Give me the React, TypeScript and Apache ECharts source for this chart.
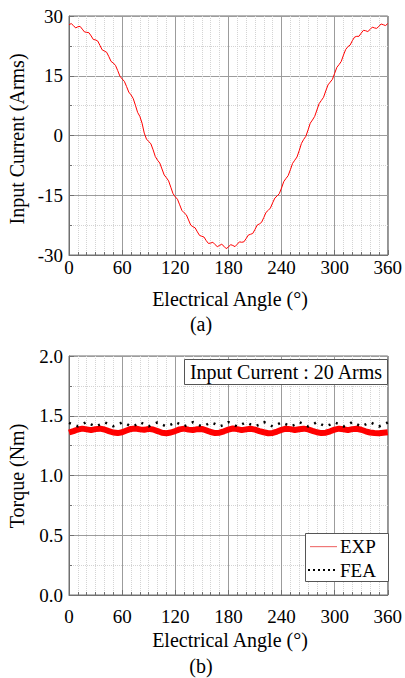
import React, { useEffect, useRef } from "react";
import * as echarts from "echarts";

// Input current (Arms), sampled every 2.5° from 0° to 360°
const currentStep = 2.5;
const currentValues = [
  27.8, 28.1, 27.6, 27.0, 27.3, 27.4, 26.7, 26.0, 25.9, 25.8,
  25.0, 24.1, 24.0, 23.7, 22.6, 21.5, 21.2, 20.9, 19.8, 18.6,
  18.2, 17.6, 16.3, 14.9, 14.2, 13.6, 12.3, 10.9, 10.2, 9.3,
  7.6, 5.8, 4.8, 3.1, 0.6, -0.9, -1.5, -2.1, -3.6, -5.3,
  -6.2, -6.9, -8.4, -9.9, -10.6, -11.4, -13.0, -14.6, -15.4, -16.0,
  -17.4, -18.8, -19.4, -19.9, -21.2, -22.5, -22.9, -23.2, -24.2, -25.1,
  -25.3, -25.5, -26.4, -27.1, -27.0, -26.8, -27.4, -27.9, -27.6, -27.3,
  -27.8, -28.4, -28.0, -27.4, -27.6, -27.9, -27.3, -26.7, -26.8, -26.7,
  -25.9, -25.0, -24.8, -24.6, -23.6, -22.5, -22.2, -21.8, -20.6, -19.3,
  -18.8, -18.2, -16.9, -15.7, -15.2, -14.6, -13.2, -11.6, -10.8, -10.1,
  -8.6, -7.0, -6.2, -5.4, -3.8, -2.0, -1.0, -0.2, 1.4, 3.1,
  3.9, 4.8, 6.4, 8.0, 8.8, 9.6, 11.2, 12.7, 13.4, 14.1,
  15.6, 17.1, 17.8, 18.6, 20.2, 21.6, 22.3, 22.7, 23.8, 24.7,
  24.9, 24.9, 25.7, 26.4, 26.3, 26.1, 26.6, 27.2, 27.0, 26.9,
  27.4, 28.0, 27.8, 27.6, 28.1,
];

// Torque (Nm), sampled every 5° from 0° to 360°
const torqueStep = 5;
const expTorque = [
  1.36, 1.372, 1.385, 1.392, 1.386, 1.38, 1.388, 1.392, 1.385, 1.372,
  1.36, 1.355, 1.362, 1.376, 1.39, 1.393, 1.386, 1.382, 1.39, 1.385,
  1.372, 1.358, 1.354, 1.36, 1.372, 1.386, 1.392, 1.384, 1.38, 1.388,
  1.39, 1.378, 1.364, 1.355, 1.358, 1.37, 1.384, 1.393, 1.388, 1.38,
  1.386, 1.391, 1.384, 1.372, 1.362, 1.354, 1.356, 1.368, 1.382, 1.392,
  1.388, 1.381, 1.387, 1.392, 1.386, 1.374, 1.362, 1.355, 1.358, 1.37,
  1.384, 1.392, 1.387, 1.38, 1.388, 1.391, 1.383, 1.37, 1.36, 1.356,
  1.354, 1.358, 1.362,
];
const feaTorque = [
  1.44, 1.425, 1.412, 1.43, 1.448, 1.428, 1.41, 1.426, 1.446, 1.43,
  1.412, 1.424, 1.444, 1.432, 1.41, 1.422, 1.447, 1.43, 1.411, 1.428,
  1.445, 1.427, 1.41, 1.425, 1.448, 1.43, 1.412, 1.426, 1.446, 1.428,
  1.41, 1.424, 1.445, 1.431, 1.411, 1.423, 1.447, 1.429, 1.41, 1.427,
  1.446, 1.428, 1.412, 1.425, 1.448, 1.43, 1.41, 1.426, 1.445, 1.429,
  1.411, 1.424, 1.446, 1.431, 1.41, 1.425, 1.447, 1.428, 1.412, 1.426,
  1.445, 1.43, 1.41, 1.424, 1.448, 1.429, 1.411, 1.427, 1.446, 1.428,
  1.41, 1.425, 1.444,
];

const FONT = "Liberation Serif";
const FRAME = "#707070";
const TICK_FONT = 19;
const TITLE_FONT = 20;

function xAxisFor(gridIndex: number, margin: number) {
  return {
    gridIndex,
    type: "value",
    min: 0,
    max: 360,
    interval: 60,
    axisLine: { show: true, onZero: false, lineStyle: { color: FRAME, width: 1 } },
    axisTick: { show: true, inside: true, length: 5, lineStyle: { color: FRAME } },
    minorTick: { show: true, splitNumber: 6, length: 3, lineStyle: { color: FRAME } },
    splitLine: { show: true, lineStyle: { color: "#9c9c9c", width: 1 } },
    minorSplitLine: { show: true, lineStyle: { color: "#d4d4d4", width: 1, type: "dotted" } },
    axisLabel: { color: "#000", fontFamily: FONT, fontSize: TICK_FONT, margin },
  };
}

function yAxisFor(gridIndex: number, min: number, max: number, interval: number, fmt?: (v: number) => string) {
  return {
    gridIndex,
    type: "value",
    min,
    max,
    interval,
    axisLine: { show: true, onZero: false, lineStyle: { color: FRAME, width: 1 } },
    axisTick: { show: true, inside: true, length: 5, lineStyle: { color: FRAME } },
    minorTick: { show: true, splitNumber: 2, length: 3, lineStyle: { color: FRAME } },
    splitLine: { show: true, lineStyle: { color: "#9c9c9c", width: 1 } },
    minorSplitLine: { show: true, lineStyle: { color: "#d4d4d4", width: 1, type: "dotted" } },
    axisLabel: { color: "#000", fontFamily: FONT, fontSize: TICK_FONT, margin: 6, formatter: fmt },
  };
}

export default function App() {
  const ref = useRef<HTMLDivElement>(null);
  useEffect(() => {
    document.body.style.margin = "0";
    if (!ref.current) return;
    const chart = echarts.init(ref.current, null, { renderer: "svg" });
    const currentData = currentValues.map((v, i) => [i * currentStep, v]);
    const expData = expTorque.map((v, i) => [i * torqueStep, v]);
    const feaData = feaTorque.map((v, i) => [i * torqueStep, v]);
    const textStyle = (t: string, size: number, extra: any = {}) => ({
      text: t,
      fontFamily: FONT,
      fontSize: size,
      fill: "#000",
      align: "center",
      verticalAlign: "middle",
      ...extra,
    });
    chart.setOption({
      animation: false,
      textStyle: { fontFamily: FONT },
      grid: [
        { left: 69, top: 16, width: 320, height: 239, show: true, borderColor: FRAME, borderWidth: 1, backgroundColor: "#fff" },
        { left: 69, top: 356, width: 320, height: 239, show: true, borderColor: FRAME, borderWidth: 1, backgroundColor: "#fff" },
      ],
      xAxis: [xAxisFor(0, 3), xAxisFor(1, 12)],
      yAxis: [
        yAxisFor(0, -30, 30, 15),
        yAxisFor(1, 0, 2, 0.5, (v: number) => v.toFixed(1)),
      ],
      series: [
        { name: "Current", type: "line", xAxisIndex: 0, yAxisIndex: 0, data: currentData, showSymbol: false, lineStyle: { color: "#ff0000", width: 1 } },
        { name: "EXP", type: "line", xAxisIndex: 1, yAxisIndex: 1, data: expData, showSymbol: false, lineStyle: { color: "#ff0000", width: 6 }, z: 2 },
        { name: "FEA", type: "line", xAxisIndex: 1, yAxisIndex: 1, data: feaData, showSymbol: false, lineStyle: { color: "#000", width: 2.5, type: [2, 6] }, z: 3 },
      ],
      graphic: [
        { type: "text", x: 17, y: 139, rotation: Math.PI / 2, style: textStyle("Input Current (Arms)", TITLE_FONT) },
        { type: "text", x: 230, y: 299, style: textStyle("Electrical Angle (°)", TITLE_FONT) },
        { type: "text", x: 201, y: 324, style: textStyle("(a)", TITLE_FONT) },
        { type: "text", x: 17, y: 476, rotation: Math.PI / 2, style: textStyle("Torque (Nm)", TITLE_FONT) },
        { type: "text", x: 230, y: 640, style: textStyle("Electrical Angle (°)", TITLE_FONT) },
        { type: "text", x: 201, y: 666, style: textStyle("(b)", TITLE_FONT) },
        { type: "rect", shape: { x: 184.5, y: 359.5, width: 203, height: 25 }, style: { fill: "#fff", stroke: "#555", lineWidth: 1 }, z: 10 },
        { type: "text", x: 286, y: 372, style: textStyle("Input Current : 20 Arms", TITLE_FONT), z: 11 },
        { type: "rect", shape: { x: 305.5, y: 533.5, width: 83, height: 48 }, style: { fill: "#fff", stroke: "#555", lineWidth: 1 }, z: 10 },
        { type: "rect", shape: { x: 310, y: 546, width: 27, height: 1.2 }, style: { fill: "#f07878" }, z: 11 },
        { type: "text", x: 340, y: 546, style: textStyle("EXP", 19, { align: "left" }), z: 11 },
        { type: "line", shape: { x1: 308, y1: 570, x2: 337, y2: 570 }, style: { stroke: "#000", lineWidth: 2, lineDash: [2, 3] }, z: 11 },
        { type: "text", x: 340, y: 570, style: textStyle("FEA", 19, { align: "left" }), z: 11 },
      ],
    });
    return () => chart.dispose();
  }, []);
  return <div ref={ref} style={{ width: 405, height: 678 }} />;
}
